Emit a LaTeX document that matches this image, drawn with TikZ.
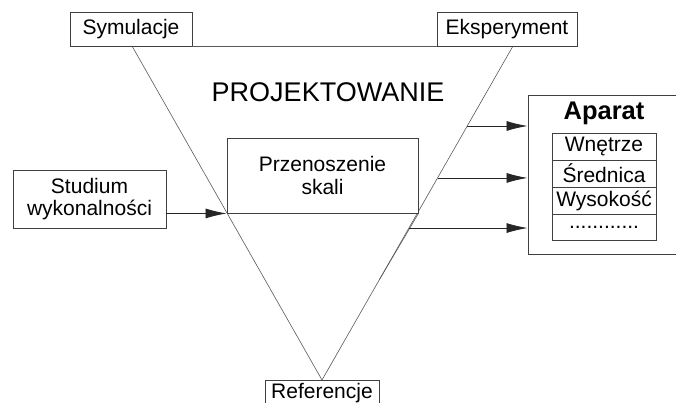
\documentclass[tikz,border=0pt]{standalone}
\usepackage{fontspec}
\setmainfont{Liberation Sans}
\usetikzlibrary{arrows.meta,calc}
\begin{document}
\begin{tikzpicture}[x=1pt,y=-1pt,
  box/.style={draw=black!75,line width=0.9pt,fill=white,inner sep=0pt,font=\fontsize{21}{24}\selectfont,align=center},
  tri/.style={draw=black!65,line width=0.6pt},
  arr/.style={draw=black!85,line width=0.8pt,-{Latex[length=21pt,width=10pt]}}]
\useasboundingbox (0,0) rectangle (676,403);
% triangle
\coordinate (tl) at (132,46);
\coordinate (tr) at (513,46);
\coordinate (apex) at (322,380);
\draw[tri] (tl) -- (apex) -- (tr);
% boxes
\node[box,minimum width=122pt,minimum height=34pt] (sym) at (131,29) {Symulacje};
\node[box,minimum width=140pt,minimum height=34pt] (eks) at (507,29) {Eksperyment};
\draw[tri] (sym.south east) -- (eks.south west);
\node[box,minimum width=114pt,text height=18.5pt,text depth=14pt,anchor=north] (ref) at (apex) {Referencje};
\node[font=\fontsize{27}{30}\selectfont] (proj) at (328,92) {PROJEKTOWANIE};
\node[box,minimum width=153pt,minimum height=58pt] (stud) at (89.5,199) {Studium\\[-2pt]wykonalności};
\node[box,minimum width=191pt,minimum height=75pt,text depth=0pt] (prz) at (322.5,175.5) {Przenoszenie\\[-1pt]skali};
\draw[tri] (prz.south east) -- ($(tr)!0.7!(apex)$);
% Aparat
\node[box,minimum width=152pt,minimum height=159pt] (apa) at (604,174.5) {};
\node[font=\fontsize{25.5}{28}\selectfont\bfseries] (apt) at (604,113) {Aparat};
\node[box,minimum width=104pt,minimum height=27pt] (r1) at (604,146.5) {Wnętrze};
\node[box,minimum width=104pt,minimum height=27pt] (r2) at (604,173.5) {Średnica};
\node[box,minimum width=104pt,minimum height=27pt] (r3) at (604,200.5) {Wysokość};
\node[box,minimum width=104pt,minimum height=26pt] (r4) at (604,227) {............};
% arrows
\draw[arr] (stud.east |- prz.south west) -- (prz.south west);
\coordinate (p1) at ($(tr)!0.2395!(apex)$);
\coordinate (p2) at ($(tr)!0.395!(apex)$);
\coordinate (p3) at ($(tr)!0.545!(apex)$);
\draw[arr] (p1) -- (apa.west |- p1);
\draw[arr] (p2) -- (apa.west |- p2);
\draw[arr] (p3) -- (apa.west |- p3);
\end{tikzpicture}
\end{document}
